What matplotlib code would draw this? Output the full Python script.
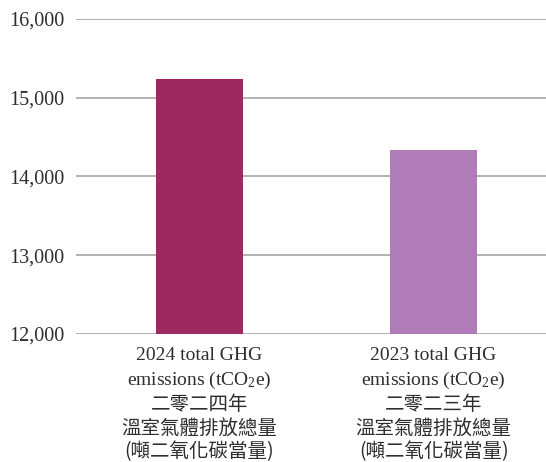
import matplotlib
matplotlib.use('Agg')
import matplotlib.pyplot as plt
from matplotlib.ticker import FuncFormatter

# DATA
values = [15240, 14340]
colors = ['#9C2A5E', '#B07BB8']
label_lines = [
    ['2024 total GHG', 'emissions (tCO$_2$e)', '二零二四年', '溫室氣體排放總量', '(噸二氧化碳當量)'],
    ['2023 total GHG', 'emissions (tCO$_2$e)', '二零二三年', '溫室氣體排放總量', '(噸二氧化碳當量)'],
]
y_ticks = [12000, 13000, 14000, 15000, 16000]

plt.rcParams['mathtext.default'] = 'regular'
serif = ['Liberation Serif', 'Noto Sans CJK TC']
cjk = ['Noto Sans CJK TC', 'Liberation Serif']
text_color = '#2E2E2E'

fig = plt.figure(figsize=(5.46, 4.62), dpi=100)
ax = fig.add_axes([0.139, 0.277, 0.861, 0.682])

x = list(range(len(values)))
ax.bar(x, values, width=0.37, color=colors, zorder=3)

ax.set_ylim(12000, 16000)
ax.set_xlim(-0.528, 1.48)
ax.set_yticks(y_ticks)
ax.yaxis.set_major_formatter(FuncFormatter(lambda v, p: f'{int(v):,}'))
ax.set_xticks([])
ax.grid(axis='y', color='#A6A6A6', linewidth=1.2, zorder=0)
ax.tick_params(axis='y', length=0, pad=8, labelsize=14.5, labelcolor=text_color)
for lbl in ax.get_yticklabels():
    lbl.set_fontfamily(serif)
for s in ax.spines.values():
    s.set_visible(False)

# multi-line category labels below the bars
offsets = [15.5, 33.5, 50.5, 67.5, 84.5]
for xi, lines in zip(x, label_lines):
    for i, (line, off) in enumerate(zip(lines, offsets)):
        fam = serif if i < 2 else cjk
        ax.annotate(line, xy=(xi, 0), xycoords=('data', 'axes fraction'),
                    xytext=(0, -off), textcoords='offset points',
                    ha='center', va='center', fontsize=14,
                    family=fam, color=text_color, annotation_clip=False)

fig.savefig('out.png', dpi=100)
